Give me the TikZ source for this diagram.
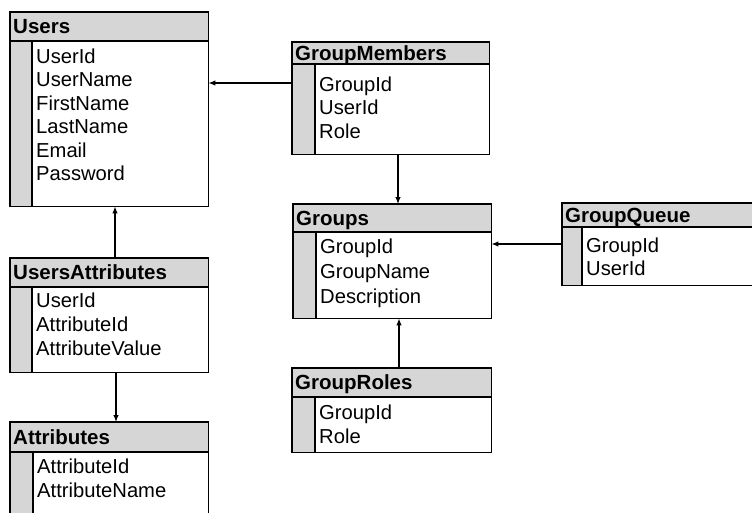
\documentclass[tikz,border=0pt]{standalone}
\usepackage{fontspec}
\setmainfont{Liberation Sans}
\usetikzlibrary{arrows.meta,calc}

\tikzset{
  tblbody/.style={rectangle, anchor=north west, inner sep=0pt, fill=white},
  frame/.style={line width=1.6pt},
  divider/.style={line width=1.3pt},
  shade/.style={fill=black!16},
  title/.style={anchor=west, inner sep=0pt, text height=14.5pt, text depth=0pt,
    font=\fontsize{20.5}{24}\selectfont\bfseries},
  field/.style={anchor=west, inner sep=0pt, text height=14.5pt, text depth=0pt,
    font=\fontsize{20.2}{24}\selectfont},
  link/.style={line width=1.2pt, -{Latex[length=7pt,width=5.5pt]}}
}

% #1 name, #2 left, #3 top, #4 width, #5 height, #6 header height,
% #7 key stripe width, #8 table name, #9 list of offset/field
\newcommand\dbtable[9]{%
  \node[tblbody, minimum width=#4pt, minimum height=#5pt] (#1) at (#2,#3) {};
  \fill[shade] (#1.north west) rectangle ($(#1.north east)+(0,#6)$);
  \fill[shade] ($(#1.north west)+(0,#6)$) rectangle ($(#1.south west)+(#7,0)$);
  \draw[divider] ($(#1.north west)+(0,#6)$) -- ($(#1.north east)+(0,#6)$);
  \draw[divider] ($(#1.north west)+(#7,#6)$) -- ($(#1.south west)+(#7,0)$);
  \draw[frame] (#1.north west) rectangle (#1.south east);
  \node[title] (#1-title) at ($(#1.north west)+(3,{#6/2})$) {#8};
  \foreach \yy/\txt [count=\k] in {#9}
    \node[field] (#1-\k) at ($(#1.north west)+({#7+4},\yy)$) {\txt};
}

\begin{document}
\begin{tikzpicture}[x=1pt,y=-1pt]
  \useasboundingbox (0,0) rectangle (752,512);

  \dbtable{users}{10}{12}{198}{194}{29}{22}{Users}
    {44/UserId,67.5/UserName,91/FirstName,114.5/LastName,138/Email,161.5/Password}
  \dbtable{gm}{292}{42}{197}{112}{22}{23}{GroupMembers}
    {42/GroupId,65.5/UserId,89/Role}
  \dbtable{groups}{293}{204}{198}{114}{28}{23}{Groups}
    {42/GroupId,67/GroupName,92/Description}
  \dbtable{gq}{562}{203}{200}{82}{24}{20}{GroupQueue}
    {42/GroupId,65/UserId}
  \dbtable{gr}{292}{368}{199}{84}{29}{23}{GroupRoles}
    {44/GroupId,68/Role}
  \dbtable{ua}{10}{258}{198}{114}{29}{22}{UsersAttributes}
    {42/UserId,66/AttributeId,90/AttributeValue}
  \dbtable{attr}{10}{422}{198}{120}{30}{23}{Attributes}
    {44/AttributeId,68/AttributeName}

  % connector rows and columns
  \coordinate (rowgm) at (0,83);
  \coordinate (rowgq) at (0,244);
  \coordinate (colu) at (115,0);
  \coordinate (cola) at (116,0);
  \coordinate (colg) at (398,0);
  \coordinate (colr) at (399,0);

  \draw[link] (gm.west |- rowgm) -- (users.east |- rowgm);
  \draw[link] (ua.north -| colu) -- (users.south -| colu);
  \draw[link] (ua.south -| cola) -- (attr.north -| cola);
  \draw[link] (gm.south -| colg) -- (groups.north -| colg);
  \draw[link] (gq.west |- rowgq) -- (groups.east |- rowgq);
  \draw[link] (gr.north -| colr) -- (groups.south -| colr);
\end{tikzpicture}
\end{document}
